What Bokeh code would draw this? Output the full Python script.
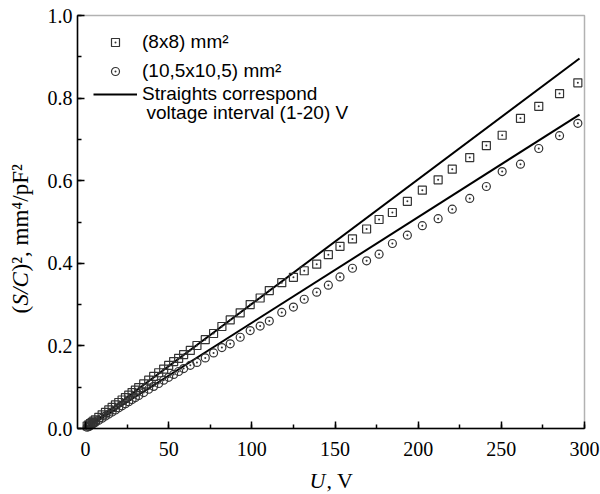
import math
from bokeh.plotting import figure
from bokeh.models import (Legend, LegendItem, Label, SingleIntervalTicker,
                          PrintfTickFormatter, Range1d, BoxAnnotation)
from bokeh.embed import file_html
from bokeh.resources import INLINE

# ---- data ----
voltage = [1, 2, 3, 4, 5, 6, 8, 10, 12, 14, 16, 18, 20, 22, 24, 26, 28, 30, 32,
           35, 38, 41, 44, 47, 50, 53, 56, 59, 63, 67, 72, 77, 82, 87, 93, 99,
           105, 110.5, 118, 125, 131.5, 139, 146, 153, 160.5, 169, 176.5, 184.5,
           193.5, 202.5, 212, 220.5, 231, 241, 250.5, 261.5, 272.5, 285, 296]

sq_8x8 = [0.006, 0.009, 0.012, 0.015, 0.018, 0.021, 0.027, 0.033, 0.039, 0.045,
          0.051, 0.057, 0.063, 0.069, 0.075, 0.081, 0.087, 0.093, 0.099, 0.108,
          0.117, 0.126, 0.135, 0.144, 0.153, 0.162, 0.170, 0.179, 0.189, 0.201,
          0.215, 0.230, 0.247, 0.263, 0.280, 0.300, 0.316, 0.334, 0.353, 0.366,
          0.382, 0.398, 0.421, 0.441, 0.459, 0.483, 0.506, 0.523, 0.550, 0.577,
          0.602, 0.628, 0.656, 0.685, 0.710, 0.751, 0.780, 0.811, 0.837]

ci_105 = [0.003, 0.005, 0.008, 0.010, 0.013, 0.015, 0.020, 0.025, 0.030, 0.035,
          0.040, 0.045, 0.050, 0.055, 0.060, 0.065, 0.070, 0.075, 0.080, 0.087,
          0.095, 0.102, 0.109, 0.117, 0.124, 0.131, 0.138, 0.145, 0.153, 0.160,
          0.171, 0.183, 0.196, 0.205, 0.221, 0.237, 0.248, 0.260, 0.281, 0.294,
          0.313, 0.330, 0.347, 0.367, 0.388, 0.406, 0.422, 0.448, 0.468, 0.491,
          0.508, 0.531, 0.557, 0.586, 0.622, 0.640, 0.678, 0.709, 0.739]

# straight lines (fits over 1-20 V), endpoints
fit_u = [0, 297]
fit_8x8 = [0.0, 0.896]
fit_105 = [0.0, 0.760]

legend_labels = ["(8x8) mm\u00b2", "(10,5x10,5) mm\u00b2",
                 "Straights correspond", "voltage interval (1-20) V"]

# axis extents of the plot box
x_lo, x_hi = -4.81, 300
y_lo, y_hi = 0.0, 1.0

# ---- figure: frame covers the whole canvas, axes pinned at the box edges ----
W, H = 600, 492
box_l, box_r, box_t, box_b = 77, 584, 15, 428      # pixel box of the plot area
sx = (box_r - box_l) / (x_hi - x_lo)
sy = (box_b - box_t) / (y_hi - y_lo)
p = figure(width=W, height=H, output_backend="svg", toolbar_location=None,
           x_range=Range1d(x_lo - box_l / sx, x_hi + (W - box_r) / sx),
           y_range=Range1d(y_lo - (H - box_b) / sy, y_hi + box_t / sy),
           min_border=0, min_border_left=0, min_border_right=0,
           min_border_top=0, min_border_bottom=0)
p.grid.visible = False
p.outline_line_color = None
p.background_fill_color = "white"
p.border_fill_color = "white"

p.xaxis.fixed_location = y_lo
p.yaxis.fixed_location = x_lo
p.xaxis.bounds = (x_lo, x_hi)
p.yaxis.bounds = (y_lo, y_hi)
p.xaxis.ticker = SingleIntervalTicker(interval=50, num_minor_ticks=2)
p.yaxis.ticker = SingleIntervalTicker(interval=0.2, num_minor_ticks=2)
p.yaxis.formatter = PrintfTickFormatter(format="%.1f")
for ax in (p.xaxis, p.yaxis):
    ax.axis_line_width = 1.5
    ax.axis_line_color = "black"
    ax.major_tick_in = 7
    ax.major_tick_out = 0
    ax.minor_tick_in = 4
    ax.minor_tick_out = 0
    ax.major_tick_line_width = 1.5
    ax.minor_tick_line_width = 1.5
    ax.major_tick_line_color = "black"
    ax.minor_tick_line_color = "black"
    ax.major_label_text_font = "Liberation Serif"
    ax.major_label_text_font_size = "20px"
    ax.major_label_text_color = "black"
p.xaxis.major_label_standoff = 13
p.yaxis.major_label_standoff = 5

p.add_layout(BoxAnnotation(left=x_lo, right=x_hi, bottom=y_lo, top=y_hi,
                           fill_alpha=0, line_color="black", line_width=1.5))

r_l1 = p.line(fit_u, fit_8x8, line_color="black", line_width=2)
r_l2 = p.line(fit_u, fit_105, line_color="black", line_width=2)
r_sq = p.scatter(voltage, sq_8x8, marker="square_dot", size=8,
                 line_color="#333333", fill_color=None, line_width=1.2)
r_ci = p.scatter(voltage, ci_105, marker="circle_dot", size=8,
                 line_color="#333333", fill_color=None, line_width=1.2)

def make_legend(label, renderers, y):
    leg = Legend(items=[LegendItem(label=label, renderers=renderers)],
                 location=(93, y), padding=0, margin=0, spacing=0,
                 border_line_color=None, background_fill_alpha=0,
                 glyph_width=44, glyph_height=20, label_standoff=5,
                 label_text_font="Liberation Sans", label_text_font_size="19px",
                 label_text_color="black")
    p.add_layout(leg)

make_legend(legend_labels[0], [r_sq], 439)
make_legend(legend_labels[1], [r_ci], 410)
make_legend(legend_labels[2], [r_l1], 387)
p.add_layout(Label(x=146, y=380, x_units="screen", y_units="screen",
                   text=legend_labels[3], text_font="Liberation Sans",
                   text_font_size="19px", text_baseline="middle",
                   text_color="black"))

# ---- axis titles built from pieces (italic symbols) ----
serif = "Liberation Serif"
yl_x, yl_y = 20, 179
p.add_layout(Label(x=yl_x, y=yl_y, x_units="screen", y_units="screen",
                   angle=math.pi / 2, text="(", text_font=serif,
                   text_font_size="23px", text_baseline="middle",
                   text_color="black"))
p.add_layout(Label(x=yl_x, y=yl_y + 8, x_units="screen", y_units="screen",
                   angle=math.pi / 2, text="S/C", text_font=serif,
                   text_font_style="italic", text_color="black",
                   text_font_size="23px", text_baseline="middle"))
p.add_layout(Label(x=yl_x, y=yl_y + 42, x_units="screen", y_units="screen",
                   angle=math.pi / 2, text=")\u00b2,  mm\u2074/pF\u00b2",
                   text_font=serif, text_font_size="23px",
                   text_baseline="middle", text_color="black"))

p.add_layout(Label(x=309, y=12, x_units="screen", y_units="screen",
                   text="U", text_font=serif, text_font_style="italic",
                   text_font_size="22px", text_baseline="middle",
                   text_color="black"))
p.add_layout(Label(x=326, y=12, x_units="screen", y_units="screen",
                   text=",  V", text_font=serif,
                   text_font_size="22px", text_baseline="middle",
                   text_color="black"))

open("out.html", "w").write(file_html(p, INLINE))
